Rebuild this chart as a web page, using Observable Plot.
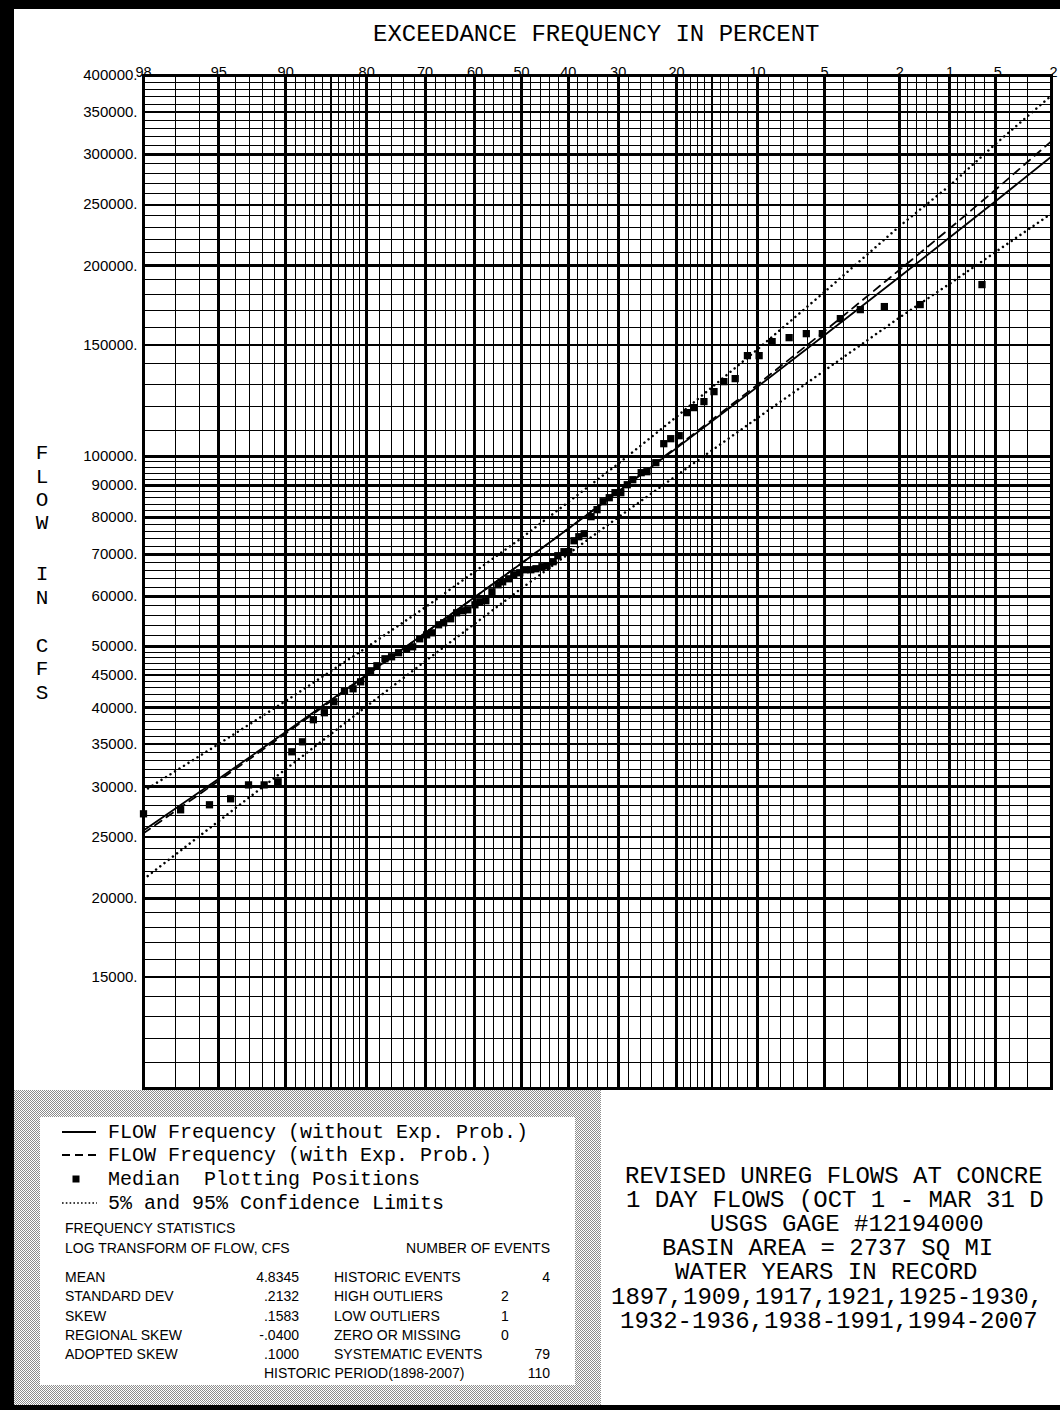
<!DOCTYPE html>
<html>
<head>
<meta charset="utf-8">
<script src="https://cdn.jsdelivr.net/npm/d3@7"></script>
<script src="https://cdn.jsdelivr.net/npm/@observablehq/plot@0.6"></script>
<style>
html, body { margin: 0; padding: 0; overflow: hidden; background: #fff; }
#page { position: relative; width: 1060px; height: 1410px; background: #fff; }
#chart { position: absolute; left: 0; top: 0; }
#overlay { position: absolute; left: 0; top: 0; pointer-events: none; }
</style>
</head>
<body>
<div id="page"><div id="chart"></div><svg id="overlay" width="1060" height="1410"></svg></div>
<script>
// ---------------- DATA ----------------
// Median plotting positions: exceedance frequency (%) and flow (cfs)
const exceedPct = [98.0,96.8,95.5,94.3,93.1,91.9,90.7,89.4,88.3,87.1,85.8,84.6,83.2,82.0,80.9,79.4,78.4,77.1,76.0,74.8,73.4,72.3,71.0,69.7,68.7,67.4,66.4,65.0,63.8,62.5,61.5,60.0,59.0,57.7,56.4,55.1,54.1,52.8,51.7,50.4,49.3,48.0,46.9,45.6,44.5,43.2,42.2,40.9,39.9,38.8,37.8,36.7,35.3,34.1,32.9,31.7,30.6,29.5,28.3,27.3,25.8,24.8,23.3,22.0,20.9,19.6,18.4,17.4,16.1,14.8,13.6,12.3,11.0,9.85,8.68,7.31,6.10,5.12,4.17,3.29,2.44,1.52,0.62];
const peakFlow = [27190,27590,28100,28720,30210,30210,30550,34080,35340,38300,39290,40890,42560,42870,43970,45770,46620,47820,48170,48880,49600,49950,51430,52180,52560,54120,54520,55320,56540,56950,57160,58210,58850,59070,61030,62610,63290,63990,64930,65410,66130,66130,66370,66860,67110,68090,69600,70620,70620,73500,74580,75400,80230,82300,84720,85970,87560,87560,90130,91790,94170,94510,97660,104660,106580,107750,117190,119350,121990,126500,131190,132630,144220,144220,151770,153980,156240,156240,165040,170520,172420,173680,186800];

// Frequency curves
const curvePct   = [98,95,90,80,70,50,30,20,10,5,2,1,0.5,0.2];
const flowNoExp  = [25590,30900,36620,45100,52510,67740,87840,102990,128800,155360,192240,221900,253250,297900];
const flowWithExp= [25320,30680,36420,45000,52500,67740,87900,103370,129750,157640,197200,229300,264100,315000];
const upperLimit = [29530,35070,41000,49840,57650,74250,97270,115450,147600,181850,231200,268000,312000,372000];
const lowerLimit = [21420,26480,31990,40230,47380,61810,80040,93220,114950,136560,165800,187500,210500,242000];

// Axis ticks
const xTickPct    = [98,95,90,80,70,60,50,40,30,20,10,5,2,1,0.5,0.2];
const xTickLabels = ["98","95","90","80","70","60","50","40","30","20","10","5","2","1",".5",".2"];
const xMajorPct   = [95,90,80,70,60,50,40,30,20,10,5,2,1,0.5];
const xMediumPct  = [85,15];
const xMinorPct   = [97,96,94,93,92,91,89,88,87,86,84,83,82,81,78,76,74,72,68,66,64,62,58,56,54,52,48,46,44,42,38,36,34,32,28,26,24,22,19,18,17,16,14,13,12,11,9,8,7,6,4,3,1.8,1.6,1.4,1.2,0.9,0.8,0.7,0.6,0.4,0.3];

const yTickValues = [400000,350000,300000,250000,200000,150000,100000,90000,80000,70000,60000,50000,45000,40000,35000,30000,25000,20000,15000];
const yHeavy  = [300000,200000,100000,90000,80000,70000,60000,50000,40000,30000,20000];
const yMedium = [350000,250000,150000,45000,35000,25000,15000];
const yMinor  = [11000,12000,13000,14000,16000,17000,18000,19000,21000,22000,23000,24000,26000,27000,28000,29000,31000,32000,33000,34000,36000,37000,38000,39000,41000,42000,43000,44000,46000,47000,48000,49000,52000,54000,56000,58000,62000,64000,66000,68000,72000,74000,76000,78000,82000,84000,86000,88000,92000,94000,96000,98000,110000,120000,130000,140000,160000,170000,180000,190000,210000,220000,230000,240000,260000,270000,280000,290000,310000,320000,330000,340000,360000,370000,380000,390000];

// Text content
const titleText = "EXCEEDANCE FREQUENCY IN PERCENT";
const yLabelLetters = ["F","L","O","W","I","N","C","F","S"];
const legendLabels = ["FLOW Frequency (without Exp. Prob.)","FLOW Frequency (with Exp. Prob.)","Median  Plotting Positions","5% and 95% Confidence Limits"];
const statLabels = ["MEAN","STANDARD DEV","SKEW","REGIONAL SKEW","ADOPTED SKEW"];
const statValues = ["4.8345",".2132",".1583","-.0400",".1000"];
const eventLabels = ["HISTORIC EVENTS","HIGH OUTLIERS","LOW OUTLIERS","ZERO OR MISSING","SYSTEMATIC EVENTS"];
const eventCounts = ["4","2","1","0","79"];
const infoLines = ["REVISED UNREG FLOWS AT CONCRE","1 DAY FLOWS (OCT 1 - MAR 31 D","USGS GAGE #12194000","BASIN AREA = 2737 SQ MI","WATER YEARS IN RECORD","1897,1909,1917,1921,1925-1930,","1932-1936,1938-1991,1994-2007"];

// ---------------- probability transform ----------------
function probit(p) {
  const a=[-3.969683028665376e+01,2.209460984245205e+02,-2.759285104469687e+02,1.383577518672690e+02,-3.066479806614716e+01,2.506628277459239e+00];
  const b=[-5.447609879822406e+01,1.615858368580409e+02,-1.556989798598866e+02,6.680131188771972e+01,-1.328068155288572e+01];
  const c=[-7.784894002430293e-03,-3.223964580411365e-01,-2.400758277161838e+00,-2.549732539343734e+00,4.374664141464968e+00,2.938163982698783e+00];
  const d=[7.784695709041462e-03,3.224671290700398e-01,2.445134137142996e+00,3.754408661907416e+00];
  const pl=0.02425, ph=1-pl;
  if (p < pl) { const q=Math.sqrt(-2*Math.log(p)); return (((((c[0]*q+c[1])*q+c[2])*q+c[3])*q+c[4])*q+c[5])/((((d[0]*q+d[1])*q+d[2])*q+d[3])*q+1); }
  if (p <= ph) { const q=p-0.5, r=q*q; return (((((a[0]*r+a[1])*r+a[2])*r+a[3])*r+a[4])*r+a[5])*q/(((((b[0]*r+b[1])*r+b[2])*r+b[3])*r+b[4])*r+1); }
  const q=Math.sqrt(-2*Math.log(1-p)); return -(((((c[0]*q+c[1])*q+c[2])*q+c[3])*q+c[4])*q+c[5])/((((d[0]*q+d[1])*q+d[2])*q+d[3])*q+1);
}
const zOf = (pct) => probit(1 - pct / 100);

const points = exceedPct.map((p, i) => ({p, q: peakFlow[i]}));
const mk = (arr) => curvePct.map((p, i) => ({p, q: arr[i]}));

const mono = "'Liberation Mono', 'Courier New', monospace";
const sans = "'Liberation Sans', Arial, Helvetica, sans-serif";
const crisp = {stroke: "#000", shapeRendering: "crispEdges"};

const chart = Plot.plot({
  width: 1060,
  height: 1090,
  marginLeft: 143,
  marginRight: 9,
  marginTop: 75,
  marginBottom: 2,
  style: {background: "transparent", fontFamily: sans, fontSize: "15px", color: "#000"},
  x: {type: "linear", domain: [zOf(98), zOf(0.2)], axis: null},
  y: {type: "log", domain: [10000, 400000], axis: null},
  marks: [
    Plot.ruleX(xMinorPct, {x: zOf, strokeWidth: 1, ...crisp}),
    Plot.ruleY(yMinor, {y: d => d, strokeWidth: 1, ...crisp}),
    Plot.ruleX(xMediumPct, {x: zOf, strokeWidth: 2, ...crisp}),
    Plot.ruleY(yMedium, {y: d => d, strokeWidth: 2, ...crisp}),
    Plot.ruleX(xMajorPct, {x: zOf, strokeWidth: 3, ...crisp}),
    Plot.ruleY(yHeavy, {y: d => d, strokeWidth: 3, ...crisp}),
    Plot.frame({strokeWidth: 3.5, ...crisp}),
    Plot.line(mk(upperLimit), {x: d => zOf(d.p), y: "q", stroke: "#000", strokeWidth: 2.5, strokeLinecap: "round", strokeDasharray: "0.01,5.3"}),
    Plot.line(mk(lowerLimit), {x: d => zOf(d.p), y: "q", stroke: "#000", strokeWidth: 2.5, strokeLinecap: "round", strokeDasharray: "0.01,5.3"}),
    Plot.line(mk(flowWithExp), {x: d => zOf(d.p), y: "q", stroke: "#000", strokeWidth: 1.8, strokeDasharray: "8,6"}),
    Plot.line(mk(flowNoExp), {x: d => zOf(d.p), y: "q", stroke: "#000", strokeWidth: 1.8}),
    Plot.dot(points, {x: d => zOf(d.p), y: "q", symbol: "square", r: 4.1, fill: "#000", stroke: "none"}),
    Plot.text(xTickPct, {x: zOf, text: (d, i) => xTickLabels[i], frameAnchor: "top", dy: -9, fontSize: 14.5, fill: "#000"}),
    Plot.text(yTickValues, {y: d => d, text: d => d + ".", frameAnchor: "left", textAnchor: "end", dx: -6, fontSize: 15, fill: "#000"})
  ]
});
document.getElementById("chart").appendChild(chart);

// ---------------- overlay (frame, title, legend, statistics) ----------------
const NS = "http://www.w3.org/2000/svg";
const ov = document.getElementById("overlay");
function el(tag, attrs, text) {
  const e = document.createElementNS(NS, tag);
  for (const k in attrs) e.setAttribute(k, attrs[k]);
  if (text !== undefined) e.textContent = text;
  ov.appendChild(e);
  return e;
}
// dithered pattern
const defs = el("defs", {});
defs.innerHTML = '<pattern id="dither" width="2" height="2" patternUnits="userSpaceOnUse"><rect width="2" height="2" fill="#fff"/><rect x="0" y="0" width="1" height="1" fill="#8c8c8c"/><rect x="1" y="1" width="1" height="1" fill="#8c8c8c"/></pattern>';

// page border
el("rect", {x: 0, y: 0, width: 1060, height: 9, fill: "#000"});
el("rect", {x: 0, y: 0, width: 14, height: 1410, fill: "#000"});
el("rect", {x: 0, y: 1405, width: 1060, height: 5, fill: "#000"});

// dithered panel and white legend box
el("rect", {x: 14, y: 1090, width: 587, height: 315, fill: "url(#dither)"});
el("rect", {x: 40, y: 1117, width: 535, height: 268, fill: "#fff"});

// title
el("text", {x: 373, y: 41, "font-family": mono, "font-size": 24, fill: "#000"}, titleText);

// y label letters
const yLetterPos = [452,476,499,522,573,597,645,668,692];
yLabelLetters.forEach((c, i) => el("text", {x: 42, y: yLetterPos[i] + 7, "text-anchor": "middle", "font-family": mono, "font-size": 21, fill: "#000"}, c));

// legend
const legY = [1132,1155,1179,1203];
el("line", {x1: 62, x2: 96, y1: legY[0], y2: legY[0], stroke: "#000", "stroke-width": 2});
el("line", {x1: 62, x2: 97, y1: legY[1], y2: legY[1], stroke: "#000", "stroke-width": 2, "stroke-dasharray": "8,5"});
el("rect", {x: 72.5, y: legY[2] - 3.5, width: 7, height: 7, fill: "#000"});
el("line", {x1: 62, x2: 97, y1: legY[3], y2: legY[3], stroke: "#000", "stroke-width": 1.6, "stroke-dasharray": "1.6,2.2"});
legendLabels.forEach((t, i) => el("text", {x: 108, y: legY[i] + 6, "font-family": mono, "font-size": 20, fill: "#000", "xml:space": "preserve", style: "white-space:pre"}, t));

// statistics
const sFont = {"font-family": sans, "font-size": 14, fill: "#000"};
el("text", {x: 65, y: 1233, ...sFont}, "FREQUENCY STATISTICS");
el("text", {x: 65, y: 1253, ...sFont}, "LOG TRANSFORM OF FLOW, CFS");
el("text", {x: 550, y: 1253, "text-anchor": "end", ...sFont}, "NUMBER OF EVENTS");
const rowY = [1277,1296,1316,1335,1354];
const countX = [550, 505, 505, 505, 550];
const countAnchor = ["end","middle","middle","middle","end"];
statLabels.forEach((t, i) => {
  el("text", {x: 65, y: rowY[i] + 5, ...sFont}, t);
  el("text", {x: 299, y: rowY[i] + 5, "text-anchor": "end", ...sFont}, statValues[i]);
  el("text", {x: 334, y: rowY[i] + 5, ...sFont}, eventLabels[i]);
  el("text", {x: countX[i], y: rowY[i] + 5, "text-anchor": countAnchor[i], ...sFont}, eventCounts[i]);
});
el("text", {x: 264, y: 1378, ...sFont}, "HISTORIC PERIOD(1898-2007)");
el("text", {x: 550, y: 1378, "text-anchor": "end", ...sFont}, "110");

// info block
const infoY = [1175,1199,1223,1247,1271,1296,1320];
const infoX = [625,626,710,662,675,611,620];
infoLines.forEach((t, i) => el("text", {x: infoX[i], y: infoY[i] + 8, "font-family": mono, "font-size": 24, fill: "#000"}, t));
</script>
</body>
</html>
